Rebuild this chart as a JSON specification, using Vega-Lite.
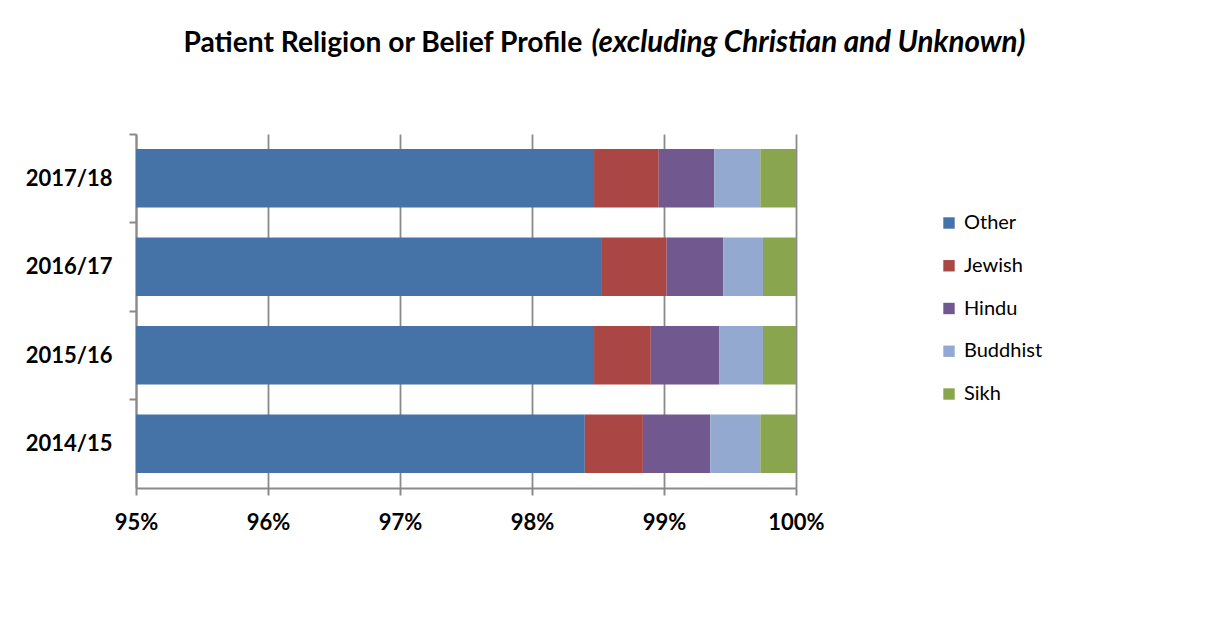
{
  "$schema": "https://vega.github.io/schema/vega-lite/v6.json",
  "width": 660,
  "height": 354,
  "autosize": {"type": "none"},
  "padding": {"left": 136, "top": 134, "right": 411, "bottom": 129},
  "background": "white",
  "config": {"view": {"stroke": null}, "font": "Lato"},
  "data": {
    "values": [
      {"year": "2017/18", "religion": "Other", "k": 1, "pct": 98.47},
      {"year": "2017/18", "religion": "Jewish", "k": 2, "pct": 0.49},
      {"year": "2017/18", "religion": "Hindu", "k": 3, "pct": 0.42},
      {"year": "2017/18", "religion": "Buddhist", "k": 4, "pct": 0.35},
      {"year": "2017/18", "religion": "Sikh", "k": 5, "pct": 0.27},
      {"year": "2016/17", "religion": "Other", "k": 1, "pct": 98.53},
      {"year": "2016/17", "religion": "Jewish", "k": 2, "pct": 0.49},
      {"year": "2016/17", "religion": "Hindu", "k": 3, "pct": 0.43},
      {"year": "2016/17", "religion": "Buddhist", "k": 4, "pct": 0.30},
      {"year": "2016/17", "religion": "Sikh", "k": 5, "pct": 0.25},
      {"year": "2015/16", "religion": "Other", "k": 1, "pct": 98.47},
      {"year": "2015/16", "religion": "Jewish", "k": 2, "pct": 0.43},
      {"year": "2015/16", "religion": "Hindu", "k": 3, "pct": 0.52},
      {"year": "2015/16", "religion": "Buddhist", "k": 4, "pct": 0.33},
      {"year": "2015/16", "religion": "Sikh", "k": 5, "pct": 0.25},
      {"year": "2014/15", "religion": "Other", "k": 1, "pct": 98.40},
      {"year": "2014/15", "religion": "Jewish", "k": 2, "pct": 0.44},
      {"year": "2014/15", "religion": "Hindu", "k": 3, "pct": 0.51},
      {"year": "2014/15", "religion": "Buddhist", "k": 4, "pct": 0.38},
      {"year": "2014/15", "religion": "Sikh", "k": 5, "pct": 0.27}
    ]
  },
  "mark": {"type": "bar", "clip": true},
  "encoding": {
    "y": {
      "field": "year",
      "type": "nominal",
      "sort": "descending",
      "scale": {"paddingInner": 0.34, "paddingOuter": 0.17},
      "axis": {
        "title": "(excluding Christian and Unknown)",
        "titleAngle": 0,
        "titleX": 455,
        "titleY": -82.3,
        "titleAlign": "left",
        "titleBaseline": "alphabetic",
        "titleFont": "Lato",
        "titleFontSize": 29.6,
        "titleFontStyle": "italic",
        "titleFontWeight": "bold",
        "titleColor": "black",
        "labelFont": "Lato",
        "labelFontSize": 22,
        "labelFontWeight": "bold",
        "labelColor": "black",
        "labelPadding": 17,
        "labelOffset": 44.25,
        "tickSize": 7,
        "tickOffset": -44.25,
        "tickColor": "#8a8a8a",
        "tickWidth": 2,
        "domainColor": "#8a8a8a",
        "domainWidth": 2,
        "grid": false
      }
    },
    "x": {
      "field": "pct",
      "type": "quantitative",
      "stack": "zero",
      "scale": {"domain": [95, 100], "nice": false},
      "axis": {
        "values": [95, 96, 97, 98, 99, 100],
        "labelExpr": "datum.value + '%'",
        "title": "Patient Religion or Belief Profile",
        "titleX": 47,
        "titleY": -436.3,
        "titleAlign": "left",
        "titleBaseline": "alphabetic",
        "titleFont": "Lato",
        "titleFontSize": 28.2,
        "titleFontWeight": "bold",
        "titleColor": "black",
        "labelFont": "Lato",
        "labelFontSize": 22,
        "labelFontWeight": "bold",
        "labelColor": "black",
        "labelBaseline": "alphabetic",
        "labelPadding": 34,
        "labelFlush": false,
        "tickSize": 7,
        "tickColor": "#8a8a8a",
        "tickWidth": 2,
        "domainColor": "#8a8a8a",
        "domainWidth": 2,
        "grid": true,
        "gridColor": "#8a8a8a",
        "gridWidth": 1.8
      }
    },
    "color": {
      "field": "religion",
      "type": "nominal",
      "scale": {
        "domain": ["Other", "Jewish", "Hindu", "Buddhist", "Sikh"],
        "range": ["#4572A7", "#AA4643", "#71588F", "#93A9CF", "#89A54E"]
      },
      "legend": {
        "orient": "none",
        "legendX": 803,
        "legendY": 79,
        "title": null,
        "padding": 0,
        "symbolType": "square",
        "symbolSize": 130,
        "symbolStrokeWidth": 0,
        "labelFont": "Lato",
        "labelFontSize": 20,
        "labelColor": "black",
        "labelOffset": 5,
        "rowPadding": 22.75
      }
    },
    "order": {"field": "k", "type": "quantitative"}
  }
}
